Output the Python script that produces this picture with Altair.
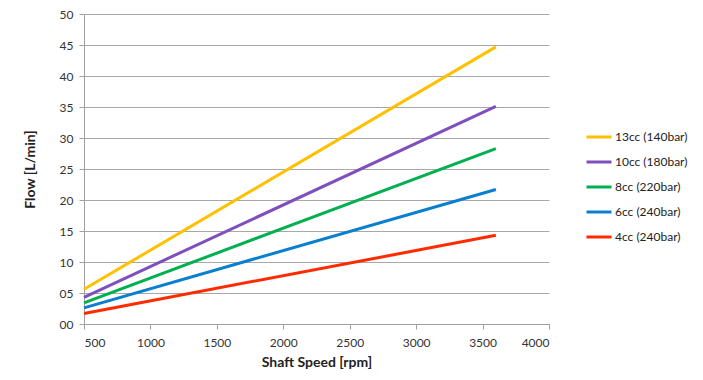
import altair as alt
import pandas as pd

series = ["13cc (140bar)", "10cc (180bar)", "8cc (220bar)", "6cc (240bar)", "4cc (240bar)"]
colors = ["#FFC000", "#7F4FBD", "#00B050", "#0A7FCF", "#FF2A00"]
speeds = [500, 3600]
flow_13 = [5.6, 44.7]
flow_10 = [4.3, 35.1]
flow_8 = [3.4, 28.3]
flow_6 = [2.6, 21.7]
flow_4 = [1.7, 14.3]

rows = []
for name, vals in zip(series, [flow_13, flow_10, flow_8, flow_6, flow_4]):
    for s, v in zip(speeds, vals):
        rows.append({"series": name, "speed": s, "flow": v})
df = pd.DataFrame(rows)

FONT = "Lato"

chart = alt.Chart(df).mark_line(strokeWidth=3).encode(
    x=alt.X("speed:Q", scale=alt.Scale(domain=[500, 4000], nice=False, zero=False),
            axis=alt.Axis(title="Shaft Speed [rpm]", values=list(range(500, 4001, 500)),
                          format="d", grid=False, tickSize=5, labelPadding=8, titlePadding=7)),
    y=alt.Y("flow:Q", scale=alt.Scale(domain=[0, 50], nice=False),
            axis=alt.Axis(title="Flow [L/min]", values=list(range(0, 51, 5)), format="02d",
                          tickSize=5, labelPadding=6, titlePadding=22)),
    color=alt.Color("series:N", scale=alt.Scale(domain=series, range=colors),
                    legend=alt.Legend(title=None, orient="none", legendX=501, legendY=109,
                                      symbolType="stroke", symbolSize=625, symbolStrokeWidth=3,
                                      rowPadding=5, labelOffset=2, labelFontSize=12,
                                      labelFont=FONT, labelColor="#222222")),
    detail="series:N",
).properties(
    width=465, height=310,
    autosize=alt.AutoSizeParams(type="none"),
    padding={"left": 76, "top": 6, "right": 146, "bottom": 48},
).configure_view(stroke=None).configure_axis(
    labelFont=FONT, titleFont=FONT, labelFontSize=12, titleFontSize=14,
    labelColor="#333333", titleColor="#222222", titleFontWeight="bold",
    domainColor="#a0a0a0", tickColor="#a0a0a0", gridColor="#a8a8a8",
    gridWidth=1, domainWidth=1,
)

chart.save("out.html", embed_options={"renderer": "svg", "actions": False})
